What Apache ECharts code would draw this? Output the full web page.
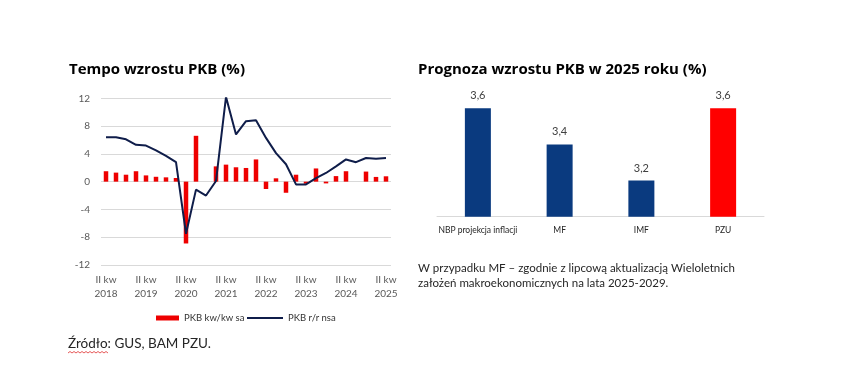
<!DOCTYPE html>
<html><head><meta charset="utf-8">
<script src="https://cdn.jsdelivr.net/npm/echarts@6/dist/echarts.min.js"></script>
<style>html,body{margin:0;padding:0;background:#fff}#c{width:850px;height:366px}</style>
</head><body><div id="c"></div>
<script>
// Left chart: quarters II kw 2018 .. II kw 2025
const quarters = [
 'II kw\n2018','III kw\n2018','IV kw\n2018','I kw\n2019',
 'II kw\n2019','III kw\n2019','IV kw\n2019','I kw\n2020',
 'II kw\n2020','III kw\n2020','IV kw\n2020','I kw\n2021',
 'II kw\n2021','III kw\n2021','IV kw\n2021','I kw\n2022',
 'II kw\n2022','III kw\n2022','IV kw\n2022','I kw\n2023',
 'II kw\n2023','III kw\n2023','IV kw\n2023','I kw\n2024',
 'II kw\n2024','III kw\n2024','IV kw\n2024','I kw\n2025',
 'II kw\n2025'
];
const pkbQoQ = [1.5,1.3,1.0,1.5,0.9,0.7,0.62,0.53,-8.9,6.6,0,2.2,2.45,2.07,1.97,3.2,-1.06,0.48,-1.6,1.0,-0.3,1.9,-0.25,0.8,1.5,0,1.45,0.68,0.77];
const pkbYoY = [6.4,6.4,6.1,5.3,5.2,4.5,3.7,2.8,-7.5,-1.15,-2.0,0.1,12.2,6.8,8.7,8.85,6.3,4.1,2.5,-0.4,-0.4,0.5,1.25,2.2,3.2,2.8,3.4,3.3,3.4];
const yTicks = {min:-12, max:12, interval:4};

// Right chart
const forecastCats = ['NBP projekcja inflacji','MF','IMF','PZU'];
const forecastVals = [3.6,3.4,3.2,3.6];
const forecastColors = ['#0a3a7f','#0a3a7f','#0a3a7f','#ff0000'];

const chart = echarts.init(document.getElementById('c'), null, {renderer:'canvas'});
const baseFont = 'Lato, "Open Sans", sans-serif';
chart.setOption({
  animation:false,
  backgroundColor:'#ffffff',
  textStyle:{fontFamily:baseFont},
  title:[
    {text:'Tempo wzrostu PKB (%)', left:64, top:57,
     textStyle:{fontFamily:'"Open Sans", sans-serif', fontWeight:'bold', fontSize:15, color:'#000'}},
    {text:'Prognoza wzrostu PKB w 2025 roku (%)', left:413, top:57,
     textStyle:{fontFamily:'"Open Sans", sans-serif', fontWeight:'bold', fontSize:15, color:'#000'}}
  ],
  legend:[
    {data:[{name:'PKB kw/kw sa', icon:'rect'}], left:151, top:308, itemWidth:23, itemHeight:5, itemGap:3,
     textStyle:{fontSize:9.5, color:'#333', fontFamily:baseFont}},
    {data:[{name:'PKB r/r nsa', icon:'rect'}], left:242, top:308, itemWidth:36, itemHeight:2,
     textStyle:{fontSize:9.5, color:'#333', fontFamily:baseFont}}
  ],
  grid:[
    {left:101, top:98.3, width:290, height:166.7, containLabel:false},
    {left:437, top:90.2, width:327, height:126.5, containLabel:false}
  ],
  xAxis:[
    {type:'category', gridIndex:0, data:quarters, boundaryGap:true,
     axisLine:{show:false}, axisTick:{show:false},
     axisLabel:{interval:3, color:'#595959', fontSize:10, lineHeight:14, margin:8, fontFamily:baseFont}},
    {type:'category', gridIndex:1, data:forecastCats,
     axisLine:{show:true, lineStyle:{color:'#d9d9d9', width:1}}, axisTick:{show:false},
     axisLabel:{interval:0, color:'#262626', fontSize:8.5, margin:9, fontFamily:baseFont}}
  ],
  yAxis:[
    {type:'value', gridIndex:0, min:yTicks.min, max:yTicks.max, interval:yTicks.interval,
     axisLine:{show:false}, axisTick:{show:false},
     axisLabel:{color:'#595959', fontSize:10, margin:11, fontFamily:baseFont},
     splitLine:{lineStyle:{color:'#d9d9d9', width:1}}},
    {type:'value', gridIndex:1, min:3, max:3.7, show:false, splitLine:{show:false}}
  ],
  series:[
    {name:'PKB kw/kw sa', type:'bar', xAxisIndex:0, yAxisIndex:0, data:pkbQoQ,
     barWidth:4.5, itemStyle:{color:'#ee0000'}},
    {name:'PKB r/r nsa', type:'line', xAxisIndex:0, yAxisIndex:0, data:pkbYoY,
     symbol:'none', lineStyle:{color:'#0f1d4a', width:2}, itemStyle:{color:'#0f1d4a'}, z:3},
    {name:'Prognoza', type:'bar', xAxisIndex:1, yAxisIndex:1,
     data:forecastVals.map((v,i)=>({value:v, itemStyle:{color:forecastColors[i]}})),
     barWidth:26,
     label:{show:true, position:'top', distance:7, color:'#404040', fontSize:11, fontFamily:baseFont,
       formatter:p=>String(p.value).replace('.',',')}}
  ],
  graphic:[
    {type:'text', left:418, top:261, style:{text:'W przypadku MF – zgodnie z lipcową aktualizacją Wieloletnich\nzałożeń makroekonomicznych na lata 2025-2029.',
      font:'11.5px '+baseFont, fill:'#262626', lineHeight:15}},
    {type:'text', left:68, top:337, style:{text:'Źródło: GUS, BAM PZU.', font:'13.5px '+baseFont, fill:'#262626'}},
    {type:'polyline', shape:{points:[[68,353],[70,351.5],[72,353],[74,351.5],[76,353],[78,351.5],[80,353],[82,351.5],[84,353],[86,351.5],[88,353],[90,351.5],[92,353],[94,351.5],[96,353],[98,351.5],[100,353],[102,351.5],[104,353],[106,351.5],[108,353]]},
     style:{stroke:'#e03030', lineWidth:0.8, fill:null}}
  ]
});
</script></body></html>
